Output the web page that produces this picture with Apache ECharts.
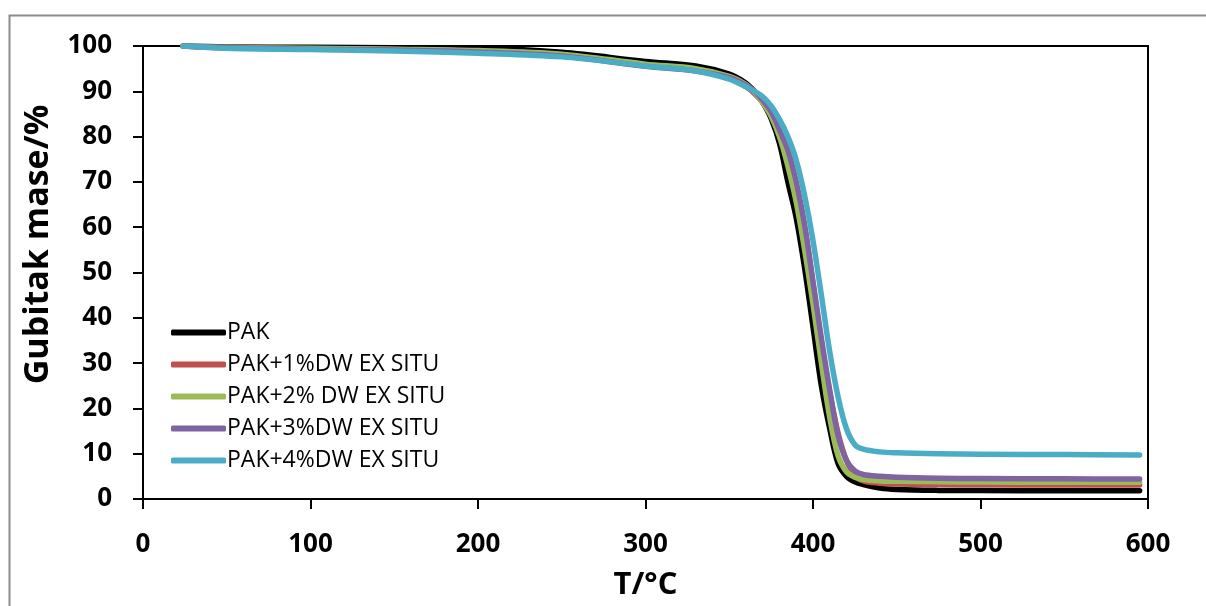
<!DOCTYPE html>
<html>
<head>
<meta charset="utf-8">
<script src="https://cdn.jsdelivr.net/npm/echarts@6/dist/echarts.min.js"></script>
<style>html,body{margin:0;padding:0;background:#fff;}#c{width:1206px;height:606px;}</style>
</head>
<body>
<div id="c"></div>
<script>
const temps = [24, 50, 100, 150, 200, 250, 300, 330, 350, 360, 365, 370, 375, 380, 385, 390, 395, 400, 405, 410, 415, 420, 425, 430, 440, 450, 475, 500, 550, 595];
const pak  = [100, 99.8, 99.7, 99.6, 99.5, 98.6, 96.6, 95.6, 93.8, 91.8, 90.0, 87.5, 84.0, 78.5, 70.0, 62.0, 51.0, 38.0, 25.0, 15.5, 7.8, 5.0, 3.8, 3.2, 2.4, 2.1, 1.9, 1.85, 1.8, 1.8];
const pak1 = [100, 99.6, 99.4, 99.2, 98.8, 97.9, 95.7, 94.6, 92.9, 91.0, 89.5, 87.5, 85.0, 81.0, 76.0, 69.5, 60.0, 47.5, 34.5, 23.5, 14.5, 8.5, 5.2, 4.0, 3.5, 3.3, 3.2, 3.15, 3.1, 3.1];
const pak2 = [100, 99.7, 99.5, 99.3, 99.0, 98.2, 96.0, 95.0, 93.3, 91.5, 89.8, 87.5, 84.5, 80.0, 73.5, 65.5, 55.0, 43.0, 30.0, 18.0, 9.5, 6.0, 4.8, 4.3, 4.0, 3.9, 3.8, 3.75, 3.7, 3.7];
const pak3 = [100, 99.6, 99.3, 99.1, 98.7, 97.8, 95.5, 94.5, 93.0, 91.3, 90.0, 88.0, 85.5, 81.5, 77.0, 70.0, 60.5, 48.0, 35.5, 24.0, 14.0, 8.5, 6.2, 5.4, 5.0, 4.8, 4.6, 4.5, 4.45, 4.4];
const pak4 = [100, 99.5, 99.2, 98.9, 98.4, 97.6, 95.6, 94.5, 92.7, 91.0, 90.0, 88.8, 86.8, 83.8, 80.0, 74.8, 67.0, 57.0, 45.0, 32.5, 22.5, 15.5, 12.0, 11.0, 10.4, 10.2, 10.0, 9.9, 9.8, 9.7];
const seriesNames = ['PAK', 'PAK+1%DW EX SITU', 'PAK+2% DW EX SITU', 'PAK+3%DW EX SITU', 'PAK+4%DW EX SITU'];
const seriesData = [pak, pak1, pak2, pak3, pak4];
const colors = ['#000000', '#C0504D', '#9BBB59', '#8064A2', '#4BACC6'];
const xTicks = [0, 100, 200, 300, 400, 500, 600];
const yTicks = [0, 10, 20, 30, 40, 50, 60, 70, 80, 90, 100];

const FONT = 'Open Sans';
const chart = echarts.init(document.getElementById('c'));
chart.setOption({
  animation: false,
  backgroundColor: '#fff',
  color: colors,
  grid: { left: 143, right: 58, top: 46, bottom: 107, show: true, borderColor: '#000', borderWidth: 2, containLabel: false },
  graphic: [{
    type: 'rect', left: 7, top: 13, shape: { x: 0, y: 0, width: 1220, height: 620 },
    style: { fill: 'none', stroke: '#8c8c8c', lineWidth: 2 }, silent: true
  }],
  legend: {
    left: 166, top: 316, orient: 'vertical', itemWidth: 55, itemHeight: 6, itemGap: 9,
    icon: 'roundRect',
    textStyle: { fontFamily: FONT, fontSize: 23, color: '#000', padding: [0, 0, 0, -4] },
    data: seriesNames.map((n, i) => ({ name: n, itemStyle: { color: colors[i] } }))
  },
  xAxis: {
    type: 'value', min: xTicks[0], max: xTicks[xTicks.length - 1], interval: 100,
    name: 'T/°C', nameLocation: 'middle', nameGap: 71,
    nameTextStyle: { fontFamily: FONT, fontSize: 31, fontWeight: 'bold', color: '#000' },
    axisLine: { lineStyle: { color: '#000', width: 2 } },
    axisTick: { show: true, length: 10, inside: false, lineStyle: { color: '#000', width: 2 } },
    axisLabel: { fontFamily: FONT, fontSize: 26, fontWeight: 'bold', color: '#000', margin: 33 },
    splitLine: { show: false }
  },
  yAxis: {
    type: 'value', min: yTicks[0], max: yTicks[yTicks.length - 1], interval: 10,
    name: 'Gubitak mase/%', nameLocation: 'middle', nameGap: 88, nameRotate: 90,
    nameTextStyle: { fontFamily: FONT, fontSize: 34, fontWeight: 'bold', color: '#000', padding: [0, 0, 0, 56] },
    axisLine: { lineStyle: { color: '#000', width: 2 } },
    axisTick: { show: true, length: 10, inside: false, lineStyle: { color: '#000', width: 2 } },
    axisLabel: { fontFamily: FONT, fontSize: 26, fontWeight: 'bold', color: '#000', margin: 31 },
    splitLine: { show: false }
  },
  series: seriesData.map((d, i) => ({
    name: seriesNames[i], type: 'line', showSymbol: false, symbol: 'none',
    smooth: 0.35,
    lineStyle: { width: 5.5, color: colors[i], cap: 'round', join: 'round' },
    itemStyle: { color: colors[i] },
    z: 2 + i,
    data: temps.map((t, j) => [t, d[j]])
  }))
});
</script>
</body>
</html>
